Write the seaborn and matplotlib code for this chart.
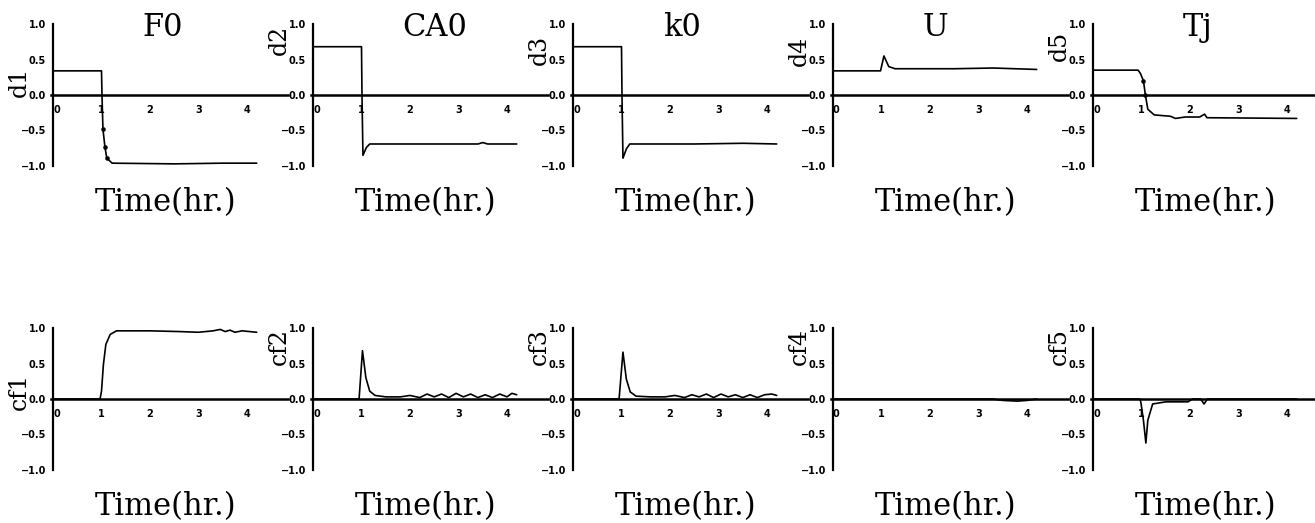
import numpy as np
import pandas as pd
import seaborn as sns
import matplotlib
matplotlib.use("Agg")
import matplotlib.pyplot as plt

sns.set_style("white")
plt.rcParams.update({"text.color": "black", "axes.edgecolor": "black",
                     "xtick.color": "black", "ytick.color": "black",
                     "axes.labelcolor": "black"})

# disturbance names (column titles)
titles = ["F0", "CA0", "k0", "U", "Tj"]
top_labels = ["d1", "d2", "d3", "d4", "d5"]
bottom_labels = ["cf1", "cf2", "cf3", "cf4", "cf5"]

# top row: d1..d5 vs time (hr)
t_d1 = [0, 1.0, 1.01, 1.03, 1.07, 1.11, 1.22, 2.5, 3.5, 4.2]
y_d1 = [0.34, 0.34, 0.0, -0.48, -0.73, -0.89, -0.96, -0.97, -0.96, -0.96]
t_d2 = [0, 1.0, 1.01, 1.03, 1.1, 1.17, 2.5, 3.4, 3.5, 3.6, 4.2]
y_d2 = [0.68, 0.68, 0.0, -0.85, -0.74, -0.69, -0.69, -0.69, -0.67, -0.69, -0.69]
t_d3 = [0, 1.0, 1.01, 1.03, 1.1, 1.17, 2.5, 3.5, 4.2]
y_d3 = [0.68, 0.68, 0.0, -0.89, -0.76, -0.69, -0.69, -0.68, -0.69]
t_d4 = [0, 0.98, 1.05, 1.15, 1.28, 2.5, 3.3, 4.2]
y_d4 = [0.34, 0.34, 0.55, 0.40, 0.37, 0.37, 0.38, 0.36]
t_d5 = [0, 0.93, 0.98, 1.04, 1.08, 1.13, 1.26, 1.6, 1.7, 1.9, 2.2, 2.3, 2.35, 4.2]
y_d5 = [0.35, 0.35, 0.30, 0.20, 0.0, -0.20, -0.28, -0.30, -0.33, -0.31, -0.31, -0.27, -0.32, -0.33]

# bottom row: cf1..cf5 vs time (hr)
t_cf1 = [0, 0.97, 1.0, 1.04, 1.09, 1.18, 1.31, 2.0, 2.6, 3.0, 3.3, 3.45, 3.55, 3.65, 3.75, 3.9, 4.05, 4.2]
y_cf1 = [0, 0, 0.11, 0.49, 0.77, 0.91, 0.96, 0.96, 0.95, 0.94, 0.96, 0.98, 0.95, 0.97, 0.94, 0.96, 0.95, 0.94]
t_cf2 = [0, 0.95, 1.02, 1.09, 1.17, 1.28, 1.5, 1.8, 2.0, 2.2, 2.35, 2.5, 2.65, 2.8, 2.95, 3.1,
         3.25, 3.4, 3.55, 3.7, 3.85, 4.0, 4.1, 4.2]
y_cf2 = [0, 0, 0.68, 0.30, 0.11, 0.05, 0.03, 0.03, 0.05, 0.02, 0.07, 0.03, 0.07, 0.02, 0.08, 0.03,
         0.07, 0.02, 0.06, 0.02, 0.07, 0.03, 0.08, 0.06]
t_cf3 = [0, 0.95, 1.03, 1.1, 1.18, 1.3, 1.6, 1.9, 2.1, 2.3, 2.45, 2.6, 2.75, 2.9, 3.05, 3.2,
         3.35, 3.5, 3.65, 3.8, 3.95, 4.1, 4.2]
y_cf3 = [0, 0, 0.66, 0.28, 0.10, 0.04, 0.03, 0.03, 0.05, 0.02, 0.06, 0.03, 0.07, 0.02, 0.07, 0.03,
         0.06, 0.02, 0.06, 0.02, 0.06, 0.07, 0.05]
t_cf4 = [0, 3.3, 3.5, 3.8, 4.0, 4.2]
y_cf4 = [0, 0, -0.02, -0.03, -0.02, 0]
t_cf5 = [0, 0.97, 0.99, 1.04, 1.09, 1.13, 1.23, 1.5, 1.96, 2.05, 2.22, 2.29, 2.36, 4.2]
y_cf5 = [0, 0, -0.06, -0.30, -0.62, -0.30, -0.07, -0.04, -0.04, 0, 0, -0.07, 0, 0]

# sample dots on the steep parts
t_dots_d1 = [1.03, 1.07, 1.11]
y_dots_d1 = [-0.48, -0.73, -0.89]
t_dots_d5 = [1.04, 1.08]
y_dots_d5 = [0.20, 0.0]

top = [(t_d1, y_d1), (t_d2, y_d2), (t_d3, y_d3), (t_d4, y_d4), (t_d5, y_d5)]
bottom = [(t_cf1, y_cf1), (t_cf2, y_cf2), (t_cf3, y_cf3), (t_cf4, y_cf4), (t_cf5, y_cf5)]

# label heights (axes fraction) as they sit in the original
top_lab_y = [0.59, 0.89, 0.82, 0.81, 0.845]
bot_lab_y = [0.55, 0.87, 0.87, 0.87, 0.87]

W, H = 1315, 523
fig = plt.figure(figsize=(W / 100, H / 100), dpi=100)

px_unit = 48.5
xmin, xmax = -0.05, 4.85
ax_w = (xmax - xmin) * px_unit
serif = "DejaVu Serif"


def style_axis(ax):
    ax.set_xlim(xmin, xmax)
    ax.set_ylim(-1.0, 1.0)
    ax.patch.set_alpha(0)
    for s in ["top", "right"]:
        ax.spines[s].set_visible(False)
    ax.spines["left"].set_position(("data", 0))
    ax.spines["bottom"].set_position(("data", 0))
    ax.spines["left"].set_linewidth(1.6)
    ax.spines["bottom"].set_linewidth(1.8)
    ax.set_yticks([-1.0, -0.5, 0.0, 0.5, 1.0])
    ax.set_yticklabels(["\u22121.0", "\u22120.5", "0.0", "0.5", "1.0"])
    ax.set_xticks([0, 1, 2, 3, 4])
    ax.set_xticks([0.5, 1.5, 2.5, 3.5, 4.5], minor=True)
    ax.tick_params(axis="y", direction="out", length=3, width=1, pad=2,
                   labelsize=7)
    ax.tick_params(axis="x", which="major", direction="inout", length=4, width=1,
                   pad=5, labelsize=7)
    ax.tick_params(axis="x", which="minor", direction="inout", length=2, width=1)
    for lab in ax.get_xticklabels() + ax.get_yticklabels():
        lab.set_fontweight("bold")
    ax.get_xticklabels()[0].set_horizontalalignment("left")
    ax.set_xlabel("")
    ax.set_ylabel("")
    ax.grid(False)


for row, (series, labels, lab_y, ax_top) in enumerate(
        [(top, top_labels, top_lab_y, 24), (bottom, bottom_labels, bot_lab_y, 328)]):
    for i in range(5):
        x0 = 53 + 260 * i
        left = (x0 + xmin * px_unit) / W
        ax = fig.add_axes([left, 1 - (ax_top + 142) / H, ax_w / W, 142 / H])
        t, y = series[i]
        df = pd.DataFrame({"t": t, "y": y})
        sns.lineplot(data=df, x="t", y="y", ax=ax, color="black", linewidth=1.2,
                     sort=False, estimator=None)
        if row == 0 and i == 0:
            sns.scatterplot(x=t_dots_d1, y=y_dots_d1, ax=ax, color="black", s=9,
                            edgecolor="black")
        if row == 0 and i == 4:
            sns.scatterplot(x=t_dots_d5, y=y_dots_d5, ax=ax, color="black", s=9,
                            edgecolor="black")
        style_axis(ax)
        if row == 0:
            ax.text(1.85, 0.975, titles[i], transform=ax.get_xaxis_transform(),
                    ha="left", va="center", fontsize=22, family=serif)
        ax.text(0.87, -0.26, "Time(hr.)", transform=ax.get_xaxis_transform(),
                ha="left", va="center", fontsize=22, family=serif)
        ax.text(-0.136 * 4.8 / (xmax - xmin), lab_y[i], labels[i], transform=ax.transAxes,
                rotation=90, ha="center", va="center", fontsize=17, family=serif)

fig.savefig("out.png", dpi=100)
